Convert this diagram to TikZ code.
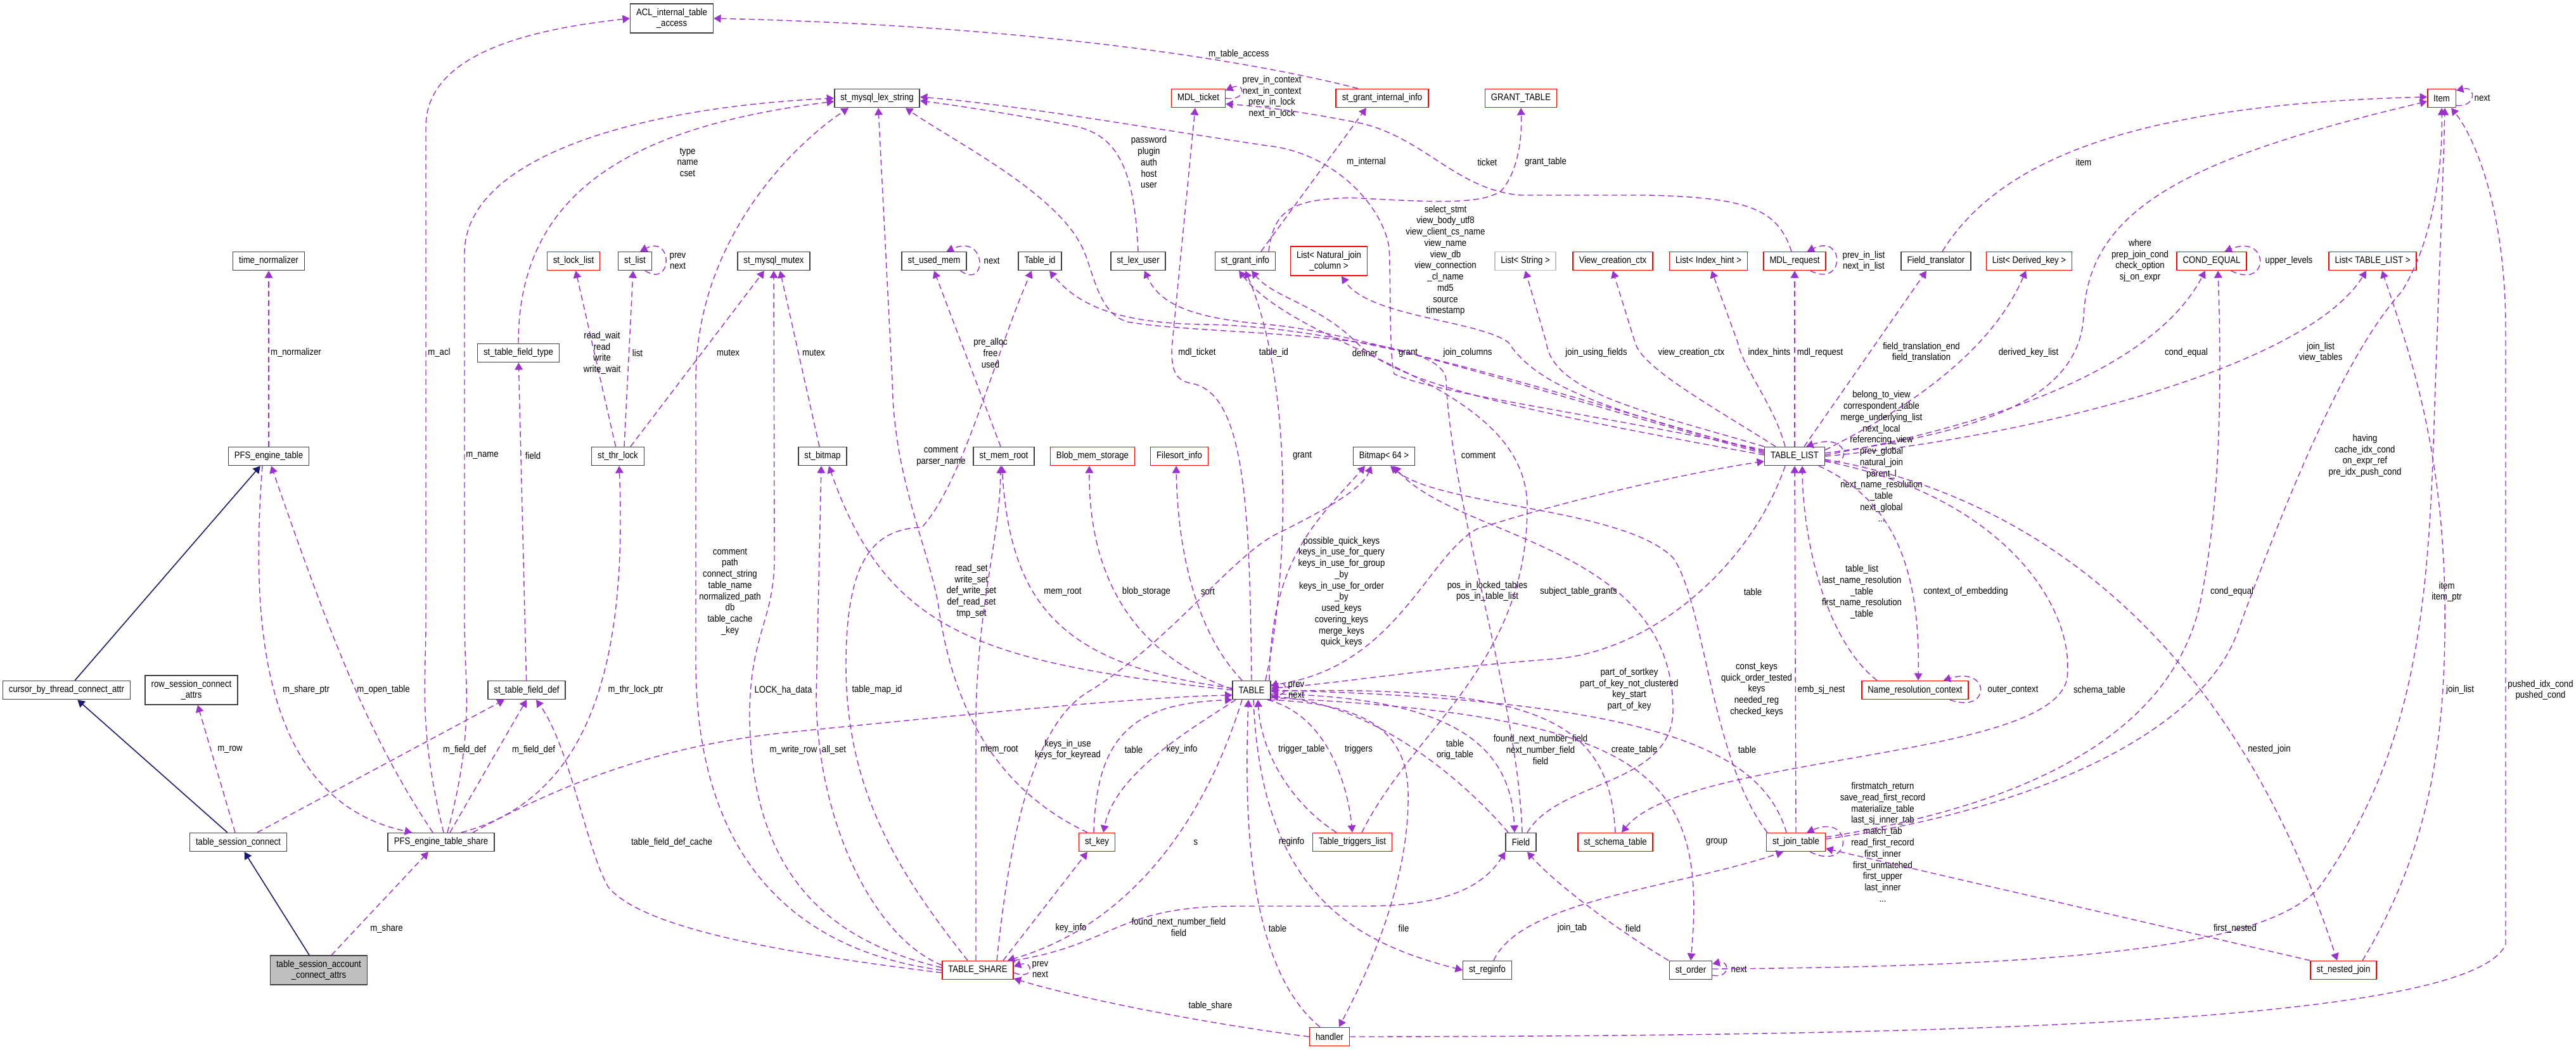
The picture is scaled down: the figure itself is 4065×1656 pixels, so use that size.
\documentclass[tikz,border=0pt]{standalone}
\usepackage{fontspec}
\usetikzlibrary{arrows.meta}
\newfontfamily\dxfont[FakeStretch=0.87]{Liberation Sans}
\newcommand{\dxf}{\dxfont\fontsize{4.3}{5.05}\selectfont}
\definecolor{usecol}{HTML}{9A32CD}
\definecolor{inhcol}{HTML}{191970}
\definecolor{boxgray}{HTML}{404040}
\definecolor{boxred}{HTML}{FF0000}
\definecolor{extgray}{HTML}{BFBFBF}

\begin{document}
\begin{tikzpicture}[x=0.01cm,y=-0.01cm,
box/.style={rectangle,draw,line width=0.45pt,font=\dxf,inner xsep=0.095cm,inner ysep=0.07cm,minimum height=0.29cm,align=center,fill=white},
cls/.style={box,draw=boxgray},inc/.style={box,draw=boxred},ext/.style={box,draw=extgray},rootcls/.style={box,draw=boxgray,fill=extgray},
lbl/.style={font=\dxf,inner sep=0pt,align=center},
usedash/.style={draw=usecol,line width=0.4pt,dash pattern=on 2.6pt off 1.6pt,-{Triangle[length=3.2pt,width=3.6pt]}},
inherit/.style={draw=inhcol,line width=0.45pt,-{Triangle[length=3.2pt,width=3.6pt]}}]
\useasboundingbox(0,0)rectangle(4065,1656);
\node[cls](acl)at(1060,29){ACL\_internal\_table\\\_access};
\node[cls](lex)at(1384,155){st\_mysql\_lex\_string};\node[inc](mdlt)at(1891,155){MDL\_ticket};\node[inc](sgii)at(2181,155){st\_grant\_internal\_info};
\node[inc](gtab)at(2400,155){GRANT\_TABLE};\node[inc](item)at(3853,155){Item};
\node[cls](tnorm)at(424,412){time\_normalizer};\node[inc](lockl)at(905,412){st\_lock\_list};\node[cls](stlist)at(1002,412){st\_list};
\node[cls](mutex)at(1221,412){st\_mysql\_mutex};\node[cls](usedm)at(1474,412){st\_used\_mem};\node[cls](tid)at(1641,412){Table\_id};
\node[cls](lexu)at(1796,412){st\_lex\_user};\node[cls](ginfo)at(1965,412){st\_grant\_info};\node[inc](lnjc)at(2097,412){List< Natural\_join\\\_column >};
\node[ext](lstr)at(2407,412){List< String >};\node[inc](vcc)at(2545,412){View\_creation\_ctx};\node[inc](lih)at(2696,412){List< Index\_hint >};
\node[inc](mdlr)at(2832,412){MDL\_request};\node[cls](ftr)at(3055,412){Field\_translator};\node[inc](ldk)at(3202,412){List< Derived\_key >};
\node[inc](ceq)at(3490,412){COND\_EQUAL};\node[inc](ltl)at(3744,412){List< TABLE\_LIST >};
\node[cls](sftype)at(818,557){st\_table\_field\_type};
\node[cls](pfset)at(424,720){PFS\_engine\_table};\node[cls](thrl)at(975,720){st\_thr\_lock};\node[cls](bitmap)at(1298,720){st\_bitmap};
\node[cls](memroot)at(1584,720){st\_mem\_root};\node[inc](blob)at(1724,720){Blob\_mem\_storage};\node[inc](fsort)at(1861,720){Filesort\_info};
\node[cls](bm64)at(2184,720){Bitmap< 64 >};\node[cls](tlist)at(2832,720){TABLE\_LIST};
\node[cls](cursor)at(105,1089){cursor\_by\_thread\_connect\_attr};\node[cls](rowsca)at(302,1089){row\_session\_connect\\\_attrs};
\node[cls](sfdef)at(831,1089){st\_table\_field\_def};\node[cls](table)at(1975,1089){TABLE};\node[inc](nrc)at(3022,1089){Name\_resolution\_context};
\node[cls](tsc)at(376,1329){table\_session\_connect};\node[cls](pfsshare)at(696,1329){PFS\_engine\_table\_share};\node[inc](stkey)at(1731,1329){st\_key};
\node[inc](ttl)at(2134,1329){Table\_triggers\_list};\node[cls](field)at(2400,1329){Field};\node[inc](schema)at(2549,1329){st\_schema\_table};
\node[inc](jtab)at(2834,1329){st\_join\_table};
\node[rootcls](tsaca)at(503,1531){table\_session\_account\\\_connect\_attrs};\node[inc](tshare)at(1543,1531){TABLE\_SHARE};
\node[cls](reginfo)at(2347,1531){st\_reginfo};\node[cls](order)at(2668,1531){st\_order};\node[inc](nested)at(3698,1531){st\_nested\_join};
\node[inc](handler)at(2098,1636){handler};

\draw[inherit](cursor)--(pfset);\draw[inherit](tsc)--(cursor);\draw[inherit](tsaca)--(tsc);

\draw[usedash](pfset)--(tnorm);\node[lbl](Lnorm)at(467,557){m\_normalizer};
\draw[usedash]([xshift=0.04cm]pfsshare.north)..controls(660,1150)and(672,1080)..(672,980)--(672,200)..controls(672,80)and(850,45)..(acl.west);\node[lbl](Lacl)at(693,557){m\_acl};
\draw[usedash]([xshift=0.1cm]pfsshare.north)..controls(750,1150)and(733,1080)..(733,980)--(733,400)..controls(733,250)and(1000,170)..(lex.west);\node[lbl](Lmname)at(761,719){m\_name};
\draw[usedash](sftype.north)..controls(818,300)and(1000,200)..([yshift=-0.05cm]lex.west);\node[lbl](Ltype)at(1085,256){type\\name\\cset};
\draw[usedash](sfdef)--(sftype);\node[lbl](Lfield1)at(841,719){field};
\draw[usedash](thrl)--(lockl);\node[lbl](Lrw)at(950,557){read\_wait\\read\\write\\write\_wait};
\draw[usedash]([xshift=0.1cm]thrl.north)--([xshift=-0.03cm]stlist.south);\node[lbl](Llist)at(1006,557){list};
\draw[usedash]([xshift=-0.11cm]stlist.south east)..controls(1062,455)and(1062,370)..([xshift=-0.19cm]stlist.north east);\node[lbl,anchor=west](Lstlist)at(1056,412){prev\\next};
\draw[usedash]([xshift=0.2cm]thrl.north)--([xshift=-0.15cm]mutex.south);\node[lbl](Lmutex1)at(1149,557){mutex};
\draw[usedash]([xshift=-0.05cm]bitmap.north)--([xshift=0.1cm]mutex.south);\node[lbl](Lmutex2)at(1284,557){mutex};
\draw[usedash]([xshift=-0.1cm]pfset.south)..controls(398,950)and(400,1260)..([xshift=-0.46cm]pfsshare.north);\node[lbl](Lshptr)at(483,1089){m\_share\_ptr};
\draw[usedash]([xshift=-0.13cm]pfsshare.north)..controls(580,1160)and(520,1000)..([xshift=0.04cm]pfset.south);\node[lbl](Lopen)at(605,1089){m\_open\_table};
\draw[usedash]([xshift=-0.05cm]tsc.north)--([xshift=0.1cm]rowsca.south);\node[lbl](Lrow)at(363,1183){m\_row};
\draw[usedash]([xshift=0.3cm]tsc.north)--([xshift=-0.35cm]sfdef.south);\node[lbl](Lfd1)at(733,1183){m\_field\_def};
\draw[usedash]([xshift=0.14cm]pfsshare.north)--(sfdef.south);\node[lbl](Lfd2)at(842,1183){m\_field\_def};
\draw[usedash]([xshift=0.32cm]pfsshare.north)..controls(930,1260)and(990,1050)..([xshift=0.02cm]thrl.south);\node[lbl](Lthr)at(1003,1089){m\_thr\_lock\_ptr};
\draw[usedash]([xshift=0.2cm]tsaca.north)--([xshift=-0.2cm]pfsshare.south);\node[lbl](Lshare)at(610,1465){m\_share};
\draw[usedash]([xshift=0.5cm]pfsshare.north)..controls(900,1230)and(1050,1175)..(1250,1155)..controls(1550,1125)and(1800,1100)..([yshift=-0.08cm]table.west);\node[lbl](Lwrite)at(1252,1183){m\_write\_row};
\draw[usedash]([yshift=-0.04cm]tshare.west)..controls(1200,1500)and(1010,1460)..(960,1400)..controls(925,1340)and(900,1180)..([xshift=0.15cm]sfdef.south);\node[lbl](Ltfdc)at(1060,1329){table\_field\_def\_cache};

\draw[usedash](tshare.west)..controls(1250,1500)and(1100,1350)..(1098,1050)--(1098,600)..controls(1098,380)and(1250,230)..([xshift=-0.45cm]lex.south);
\node[lbl](Lcomm)at(1152,934){comment\\path\\connect\_string\\table\_name\\normalized\_path\\db\\table\_cache\\\_key};
\draw[usedash]([yshift=0.04cm]tshare.west)..controls(1330,1490)and(1185,1400)..(1183,1130)..controls(1183,1000)and(1222,980)..(1222,880)--(mutex.south);\node[lbl](Llock)at(1236,1089){LOCK\_ha\_data};
\draw[usedash]([yshift=0.08cm]tshare.west)..controls(1380,1480)and(1290,1300)..(1288,1100)--([xshift=-0.02cm]bitmap.south);\node[lbl](Lallset)at(1316,1183){all\_set};
\draw[usedash](table.west)..controls(1550,1045)and(1400,1000)..([xshift=0.1cm]bitmap.south);\node[lbl](Lread)at(1533,933){read\_set\\write\_set\\def\_write\_set\\def\_read\_set\\tmp\_set};
\draw[usedash]([xshift=-0.16cm]tshare.north)..controls(1420,1380)and(1335,1250)..(1335,1050)..controls(1335,880)and(1380,835)..(1455,832)..controls(1520,760)and(1570,560)..([xshift=-0.13cm]tid.south);\node[lbl](Lmapid)at(1384,1089){table\_map\_id};
\draw[usedash]([xshift=-0.15cm]stkey.north)..controls(1560,1240)and(1500,1100)..(1480,950)..controls(1460,850)and(1410,750)..(1408,600)--([xshift=0.02cm]lex.south);\node[lbl](Lkcomm)at(1485,720){comment\\parser\_name};
\draw[usedash]([xshift=-0.05cm]memroot.north)--(usedm.south);\node[lbl](Lpre)at(1563,557){pre\_alloc\\free\\used};
\draw[usedash]([xshift=-0.1cm]usedm.south east)..controls(1558,458)and(1558,368)..([xshift=-0.32cm]usedm.north east);\node[lbl,anchor=west](Lnext1)at(1552,412){next};
\draw[usedash]([yshift=0.03cm]table.west)..controls(1680,1050)and(1595,960)..([xshift=-0.03cm]memroot.south);\node[lbl](Lmr1)at(1677,934){mem\_root};
\draw[usedash]([xshift=-0.03cm]tshare.north)--(1540,1130)..controls(1543,950)and(1578,850)..([xshift=-0.05cm]memroot.south);\node[lbl](Lmr2)at(1577,1183){mem\_root};
\draw[usedash]([yshift=0.015cm]table.west)..controls(1780,1030)and(1718,900)..([xshift=-0.05cm]blob.south);\node[lbl](Lblob)at(1809,934){blob\_storage};
\draw[usedash]([xshift=-0.15cm]table.north)..controls(1880,990)and(1858,850)..([xshift=-0.05cm]fsort.south);\node[lbl](Lsort)at(1906,934){sort};
\draw[usedash](table.north)..controls(1972,800)and(1965,620)..(1880,605)..controls(1852,600)and(1849,580)..(1849,550)--([xshift=-0.05cm]mdlt.south);\node[lbl](Lmdlt)at(1889,557){mdl\_ticket};

\draw[usedash]([yshift=0.06cm]tlist.west)..controls(2450,620)and(2150,515)..(1900,512)..controls(1760,510)and(1700,480)..([xshift=0.15cm]tid.south);\node[lbl](Ltid)at(2010,557){table\_id};
\draw[usedash]([yshift=0.04cm]tlist.west)..controls(2400,610)and(2150,525)..(2000,512)..controls(1880,502)and(1830,480)..([xshift=0.1cm]lexu.south);\node[lbl](Ldef)at(2154,557){definer};
\draw[usedash]([yshift=0.02cm]tlist.west)..controls(2350,640)and(2200,600)..(2140,540)..controls(2080,480)and(2010,470)..([xshift=0.1cm]ginfo.south);\node[lbl](Lgr1)at(2222,557){grant};
\draw[usedash]([xshift=0.22cm]table.north)..controls(2035,900)and(2040,600)..(ginfo.south);\node[lbl](Lgr2)at(2055,719){grant};
\draw[usedash]([xshift=0.25cm]ginfo.north)--([xshift=-0.25cm]sgii.south);\node[lbl](Lmint)at(2156,256){m\_internal};
\draw[usedash]([xshift=-0.38cm]sgii.north)..controls(1950,90)and(1600,40)..(acl.east);\node[lbl](Lmta)at(1955,86){m\_table\_access};
\draw[usedash](mdlt.east)..controls(1968,160)and(1966,128)..([yshift=-0.03cm]mdlt.north east);\node[lbl,anchor=west](Lmdlt2)at(1960,153){prev\_in\_context\\next\_in\_context\\prev\_in\_lock\\next\_in\_lock};
\draw[usedash]([xshift=-0.05cm]mdlr.north)..controls(2805,330)and(2760,312)..(2600,308)--(2400,308)..controls(2300,300)and(2250,220)..(2150,195)..controls(2050,175)and(1990,168)..([yshift=-0.09cm]mdlt.east);\node[lbl](Lticket)at(2347,256){ticket};
\draw[usedash]([xshift=0.37cm]ginfo.north)..controls(2010,330)and(2040,315)..(2130,312)..controls(2250,318)and(2340,325)..(2370,300)..controls(2395,270)and(2402,220)..(gtab.south);\node[lbl](Lgt)at(2439,256){grant\_table};
\draw[usedash]([yshift=0.1cm]tlist.west)..controls(2500,650)and(2260,620)..(2200,590)..controls(2192,560)and(2195,450)..(2192,390)..controls(2180,320)and(2100,240)..(2000,230)..controls(1800,200)and(1600,165)..([yshift=0.02cm]lex.east);
\node[lbl](Lsel)at(2281,411){select\_stmt\\view\_body\_utf8\\view\_client\_cs\_name\\view\_name\\view\_db\\view\_connection\\\_cl\_name\\md5\\source\\timestamp};
\draw[usedash](lexu.north)..controls(1790,260)and(1760,215)..(1700,200)..controls(1600,180)and(1500,165)..([yshift=-0.04cm]lex.east);\node[lbl](Lpw)at(1813,256){password\\plugin\\auth\\host\\user};
\draw[usedash]([yshift=0.08cm]tlist.west)..controls(2500,640)and(2420,600)..(2380,540)..controls(2330,505)and(2160,500)..([xshift=0.2cm]lnjc.south);\node[lbl](Ljc)at(2316,557){join\_columns};
\draw[usedash](tlist.north west)..controls(2600,650)and(2450,620)..(2440,540)--(lstr.south);\node[lbl](Ljuf)at(2519,557){join\_using\_fields};
\draw[usedash]([xshift=-0.3cm]tlist.north)..controls(2700,640)and(2590,580)..(2580,540)--(vcc.south);\node[lbl](Lvcc)at(2669,557){view\_creation\_ctx};
\draw[usedash]([xshift=-0.15cm]tlist.north)..controls(2800,640)and(2750,580)..(2742,540)--([xshift=0.05cm]lih.south);\node[lbl](Lih)at(2792,557){index\_hints};
\draw[usedash](tlist.north)--(mdlr.south);\node[lbl](Lmdlr)at(2872,557){mdl\_request};
\draw[usedash]([xshift=-0.25cm]mdlr.south east)..controls(2912,455)and(2912,368)..([xshift=-0.3cm]mdlr.north east);\node[lbl,anchor=west](Lmdlr2)at(2907,412){prev\_in\_list\\next\_in\_list};
\draw[usedash]([xshift=0.15cm]tlist.north)--([xshift=-0.15cm]ftr.south);\node[lbl](Lftr)at(3032,556){field\_translation\_end\\field\_translation};
\draw[usedash]([xshift=0.1cm]ftr.north)..controls(3150,260)and(3350,165)..([yshift=0.02cm]item.west);\node[lbl](Litem)at(3288,256){item};
\draw[usedash]([yshift=0.1cm]tlist.east)..controls(3000,650)and(3140,560)..([xshift=-0.05cm]ldk.south);\node[lbl](Ldk)at(3201,557){derived\_key\_list};
\draw[usedash]([yshift=0.05cm]tlist.east)..controls(3150,680)and(3280,620)..(3288,500)..controls(3295,330)and(3450,250)..([yshift=-0.05cm]item.west);\node[lbl](Lwhere)at(3377,411){where\\prep\_join\_cond\\check\_option\\sj\_on\_expr};
\draw[usedash]([yshift=0.02cm]tlist.east)..controls(3150,670)and(3400,580)..([xshift=-0.1cm]ceq.south);\node[lbl](Lce1)at(3450,557){cond\_equal};
\draw[usedash]([xshift=-0.25cm]ceq.south east)..controls(3582,458)and(3582,368)..([xshift=-0.35cm]ceq.north east);\node[lbl,anchor=west](Lupper)at(3574,412){upper\_levels};
\draw[usedash](tlist.east)..controls(3200,690)and(3640,580)..([xshift=-0.1cm]ltl.south);\node[lbl](Ljl1)at(3662,556){join\_list\\view\_tables};
\draw[usedash]([yshift=0.04cm]item.south east)..controls(3908,170)and(3908,135)..([yshift=-0.03cm]item.north east);\node[lbl,anchor=west](Lnext2)at(3904,155){next};
\draw[usedash]([yshift=-0.06cm]tlist.east)..controls(2922,745)and(2922,680)..([xshift=-0.3cm]tlist.north east);
\node[lbl](Ltl)at(2969,720){belong\_to\_view\\correspondent\_table\\merge\_underlying\_list\\next\_local\\referencing\_view\\prev\_global\\natural\_join\\parent\_l\\next\_name\_resolution\\\_table\\next\_global\\...};

\draw[usedash]([xshift=0.28cm]table.north)..controls(2005,880)and(2080,820)..([xshift=-0.3cm]bm64.south);
\node[lbl](Lpqk)at(2117,934){possible\_quick\_keys\\keys\_in\_use\_for\_query\\keys\_in\_use\_for\_group\\\_by\\keys\_in\_use\_for\_order\\\_by\\used\_keys\\covering\_keys\\merge\_keys\\quick\_keys};
\draw[usedash]([xshift=0.3cm]tshare.north)..controls(1600,1250)and(1650,1130)..(1720,1090)..controls(1850,1010)and(1950,870)..(2020,840)..controls(2100,800)and(2150,770)..([xshift=-0.2cm]bm64.south);\node[lbl](Lkiu)at(1685,1183){keys\_in\_use\\keys\_for\_keyread};
\draw[usedash]([xshift=0.1cm]field.north)..controls(2460,1230)and(2640,1240)..(2640,1120)..controls(2640,860)and(2300,850)..([xshift=0.15cm]bm64.south);\node[lbl](Lpos)at(2571,1088){part\_of\_sortkey\\part\_of\_key\_not\_clustered\\key\_start\\part\_of\_key};
\draw[usedash]([xshift=-0.45cm]jtab.north)..controls(2700,1200)and(2690,950)..(2640,880)..controls(2560,800)and(2270,800)..([xshift=0.1cm]bm64.south);\node[lbl](Lck)at(2772,1088){const\_keys\\quick\_order\_tested\\keys\\needed\_reg\\checked\_keys};
\draw[usedash]([yshift=0.08cm]table.east)..controls(2200,1060)and(2250,880)..(2330,835)..controls(2500,780)and(2700,740)..([yshift=-0.08cm]tlist.west);\node[lbl](Lpit)at(2347,933){pos\_in\_locked\_tables\\pos\_in\_table\_list};
\draw[usedash]([xshift=-0.15cm]tlist.south)..controls(2760,900)and(2600,1030)..(2450,1040)..controls(2250,1055)and(2100,1080)..([yshift=0.03cm]table.east);\node[lbl](Ltab1)at(2766,934){table};
\draw[usedash]([xshift=0.15cm]ttl.north)..controls(2230,1150)and(2410,1050)..(2410,800)..controls(2410,600)and(2060,560)..([xshift=-0.1cm]ginfo.south);\node[lbl](Lstg)at(2491,934){subject\_table\_grants};
\draw[usedash]([xshift=0.02cm]field.north)..controls(2395,1100)and(2290,800)..(2282,600)..controls(2278,520)and(1900,530)..(1780,508)..controls(1730,495)and(1725,420)..(1705,385)..controls(1660,300)and(1500,220)..([xshift=0.45cm]lex.south);\node[lbl](Lcomm2)at(2333,719){comment};
\draw[usedash]([xshift=0.25cm]table.south)..controls(2100,1130)and(2128,1250)..(ttl.north);\node[lbl](Ltrig)at(2144,1183){triggers};
\draw[usedash]([xshift=-0.25cm]ttl.north)..controls(2040,1270)and(1990,1190)..([xshift=0.1cm]table.south);\node[lbl](Ltt)at(2054,1183){trigger\_table};
\draw[usedash]([yshift=-0.06cm]table.east)..controls(2300,1100)and(2385,1180)..([xshift=-0.1cm]field.north);\node[lbl](Lfnn)at(2431,1183){found\_next\_number\_field\\next\_number\_field\\field};
\draw[usedash]([xshift=-0.2cm]field.north)..controls(2300,1220)and(2160,1110)..([yshift=-0.1cm]table.east);\node[lbl](Lorig)at(2296,1183){table\\orig\_table};
\draw[usedash](schema.north)..controls(2540,1150)and(2450,1080)..([yshift=-0.02cm]table.east);\node[lbl](Lct)at(2579,1183){create\_table};
\draw[usedash]([yshift=-0.08cm]tlist.east)..controls(3150,780)and(3275,950)..(3262,1070)..controls(3240,1200)and(2660,1190)..([xshift=0.1cm]schema.north);\node[lbl](Lsch)at(3313,1089){schema\_table};
\draw[usedash]([xshift=-0.15cm]jtab.north)..controls(2780,1180)and(2600,1105)..(table.east);\node[lbl](Ltab2)at(2757,1183){table};
\draw[usedash]([xshift=0.03cm]table.south)..controls(1990,1420)and(2150,1490)..(reginfo.west);\node[lbl](Lreg)at(2038,1329){reginfo};
\draw[usedash]([xshift=0.28cm]table.south)..controls(2150,1110)and(2220,1150)..(2222,1250)..controls(2225,1400)and(2150,1550)..([xshift=0.15cm]handler.north);\node[lbl](Lfile)at(2215,1465){file};
\draw[usedash]([xshift=-0.15cm]handler.north)..controls(1960,1520)and(1965,1250)..([xshift=-0.05cm]table.south);\node[lbl](Ltab3)at(2016,1465){table};
\draw[usedash](handler.west)..controls(1900,1615)and(1700,1575)..([yshift=0.02cm]tshare.south east);\node[lbl](Ltsh)at(1910,1587){table\_share};
\draw[usedash]([yshift=-0.12cm]table.east)..controls(2600,1130)and(2695,1220)..(order.north);\node[lbl](Lgroup)at(2709,1329){group};
\draw[usedash]([xshift=0.1cm]reginfo.north)..controls(2400,1420)and(2650,1400)..([xshift=-0.2cm]jtab.south);\node[lbl](Ljt)at(2481,1465){join\_tab};
\draw[usedash]([xshift=-0.35cm]order.north)..controls(2540,1460)and(2450,1390)..([xshift=0.1cm]field.south);\node[lbl](Lfield2)at(2577,1465){field};
\draw[usedash]([yshift=-0.08cm]order.east)..controls(2730,1545)and(2730,1515)..([yshift=0.1cm]order.east);\node[lbl,anchor=west](Lnext3)at(2731,1530){next};
\draw[usedash]([yshift=0.02cm]order.east)..controls(3300,1525)and(3580,1490)..(3660,1400)..controls(3800,1200)and(3830,1000)..(3840,700)..controls(3848,450)and(3855,300)..([xshift=0.05cm]item.south);\node[lbl](Litem2)at(3861,934){item\\item\_ptr};
\draw[usedash](handler.east)..controls(3000,1635)and(3900,1620)..(3954,1490)--(3954,520)..controls(3954,320)and(3900,210)..([xshift=0.15cm]item.south);\node[lbl](Lpush)at(4009,1089){pushed\_idx\_cond\\pushed\_cond};
\draw[usedash]([xshift=-0.25cm]jtab.south east)..controls(2925,1378)and(2925,1282)..([xshift=-0.3cm]jtab.north east);
\node[lbl](Ljtl)at(2971,1329){firstmatch\_return\\save\_read\_first\_record\\materialize\_table\\last\_sj\_inner\_tab\\match\_tab\\read\_first\_record\\first\_inner\\first\_unmatched\\first\_upper\\last\_inner\\...};
\draw[usedash](jtab.north)--(tlist.south);\node[lbl](Lemb)at(2874,1089){emb\_sj\_nest};
\draw[usedash]([yshift=0.05cm]jtab.east)..controls(3200,1280)and(3470,1160)..(3530,1000)..controls(3610,780)and(3700,560)..(3790,460)..controls(3840,380)and(3855,260)..(item.south);\node[lbl](Lhav)at(3732,719){having\\cache\_idx\_cond\\on\_expr\_ref\\pre\_idx\_push\_cond};
\draw[usedash]([yshift=0.08cm]jtab.east)..controls(3200,1270)and(3420,1160)..(3470,960)..controls(3505,800)and(3506,600)..([xshift=0.1cm]ceq.south);\node[lbl](Lce2)at(3522,934){cond\_equal};
\draw[usedash](nested.north west)--([yshift=-0.1cm]jtab.east);\node[lbl](Lfn)at(3527,1465){first\_nested};
\draw[usedash]([yshift=-0.05cm]tlist.east)..controls(3200,780)and(3520,1000)..([xshift=-0.1cm]nested.north);\node[lbl](Lnj)at(3581,1183){nested\_join};
\draw[usedash]([xshift=0.3cm]nested.north)..controls(3840,1330)and(3860,1150)..(3858,950)..controls(3855,700)and(3800,550)..([xshift=0.15cm]ltl.south);\node[lbl](Ljl2)at(3882,1089){join\_list};
\draw[usedash]([xshift=-0.1cm]tlist.south east)..controls(2990,790)and(3030,900)..([xshift=0.05cm]nrc.north);\node[lbl](Lcoe)at(3102,934){context\_of\_embedding};
\draw[usedash]([xshift=-0.6cm]nrc.north)..controls(2880,1010)and(2845,850)..([xshift=0.12cm]tlist.south);\node[lbl](Lnrc)at(2938,934){table\_list\\last\_name\_resolution\\\_table\\first\_name\_resolution\\\_table};
\draw[usedash]([xshift=-0.3cm]nrc.south east)..controls(3142,1128)and(3142,1050)..([xshift=-0.4cm]nrc.north east);\node[lbl,anchor=west](Louter)at(3136,1089){outer\_context};

\draw[usedash]([xshift=0.4cm]tshare.north)--([xshift=-0.15cm]stkey.south);\node[lbl](Lki1)at(1690,1465){key\_info};
\draw[usedash]([xshift=-0.25cm]table.south)..controls(1880,1150)and(1760,1220)..([xshift=0.1cm]stkey.north);\node[lbl](Lki2)at(1865,1183){key\_info};
\draw[usedash]([xshift=-0.05cm]stkey.north)..controls(1730,1150)and(1800,1110)..(table.south west);\node[lbl](Ltab4)at(1789,1183){table};
\draw[usedash]([xshift=-0.15cm]table.south)..controls(1900,1300)and(1780,1460)..([xshift=-0.1cm]tshare.north east);\node[lbl](Ls)at(1887,1329){s};
\draw[usedash](tshare.north east)..controls(1760,1490)and(1760,1430)..(1950,1430)--(2150,1430)..controls(2280,1430)and(2340,1400)..(field.south west);\node[lbl](Lfnf)at(1860,1463){found\_next\_number\_field\\field};
\draw[usedash]([yshift=-0.04cm]tshare.east)..controls(1632,1548)and(1632,1515)..([yshift=0.06cm]tshare.east);\node[lbl,anchor=west](Lprev2)at(1628,1530){prev\\next};
\draw[usedash]([yshift=-0.08cm]table.east)..controls(2034,1103)and(2034,1072)..([yshift=0.06cm]table.east);\node[lbl,anchor=west](Lprev1)at(2032,1089){prev\\next};
\end{tikzpicture}
\end{document}
